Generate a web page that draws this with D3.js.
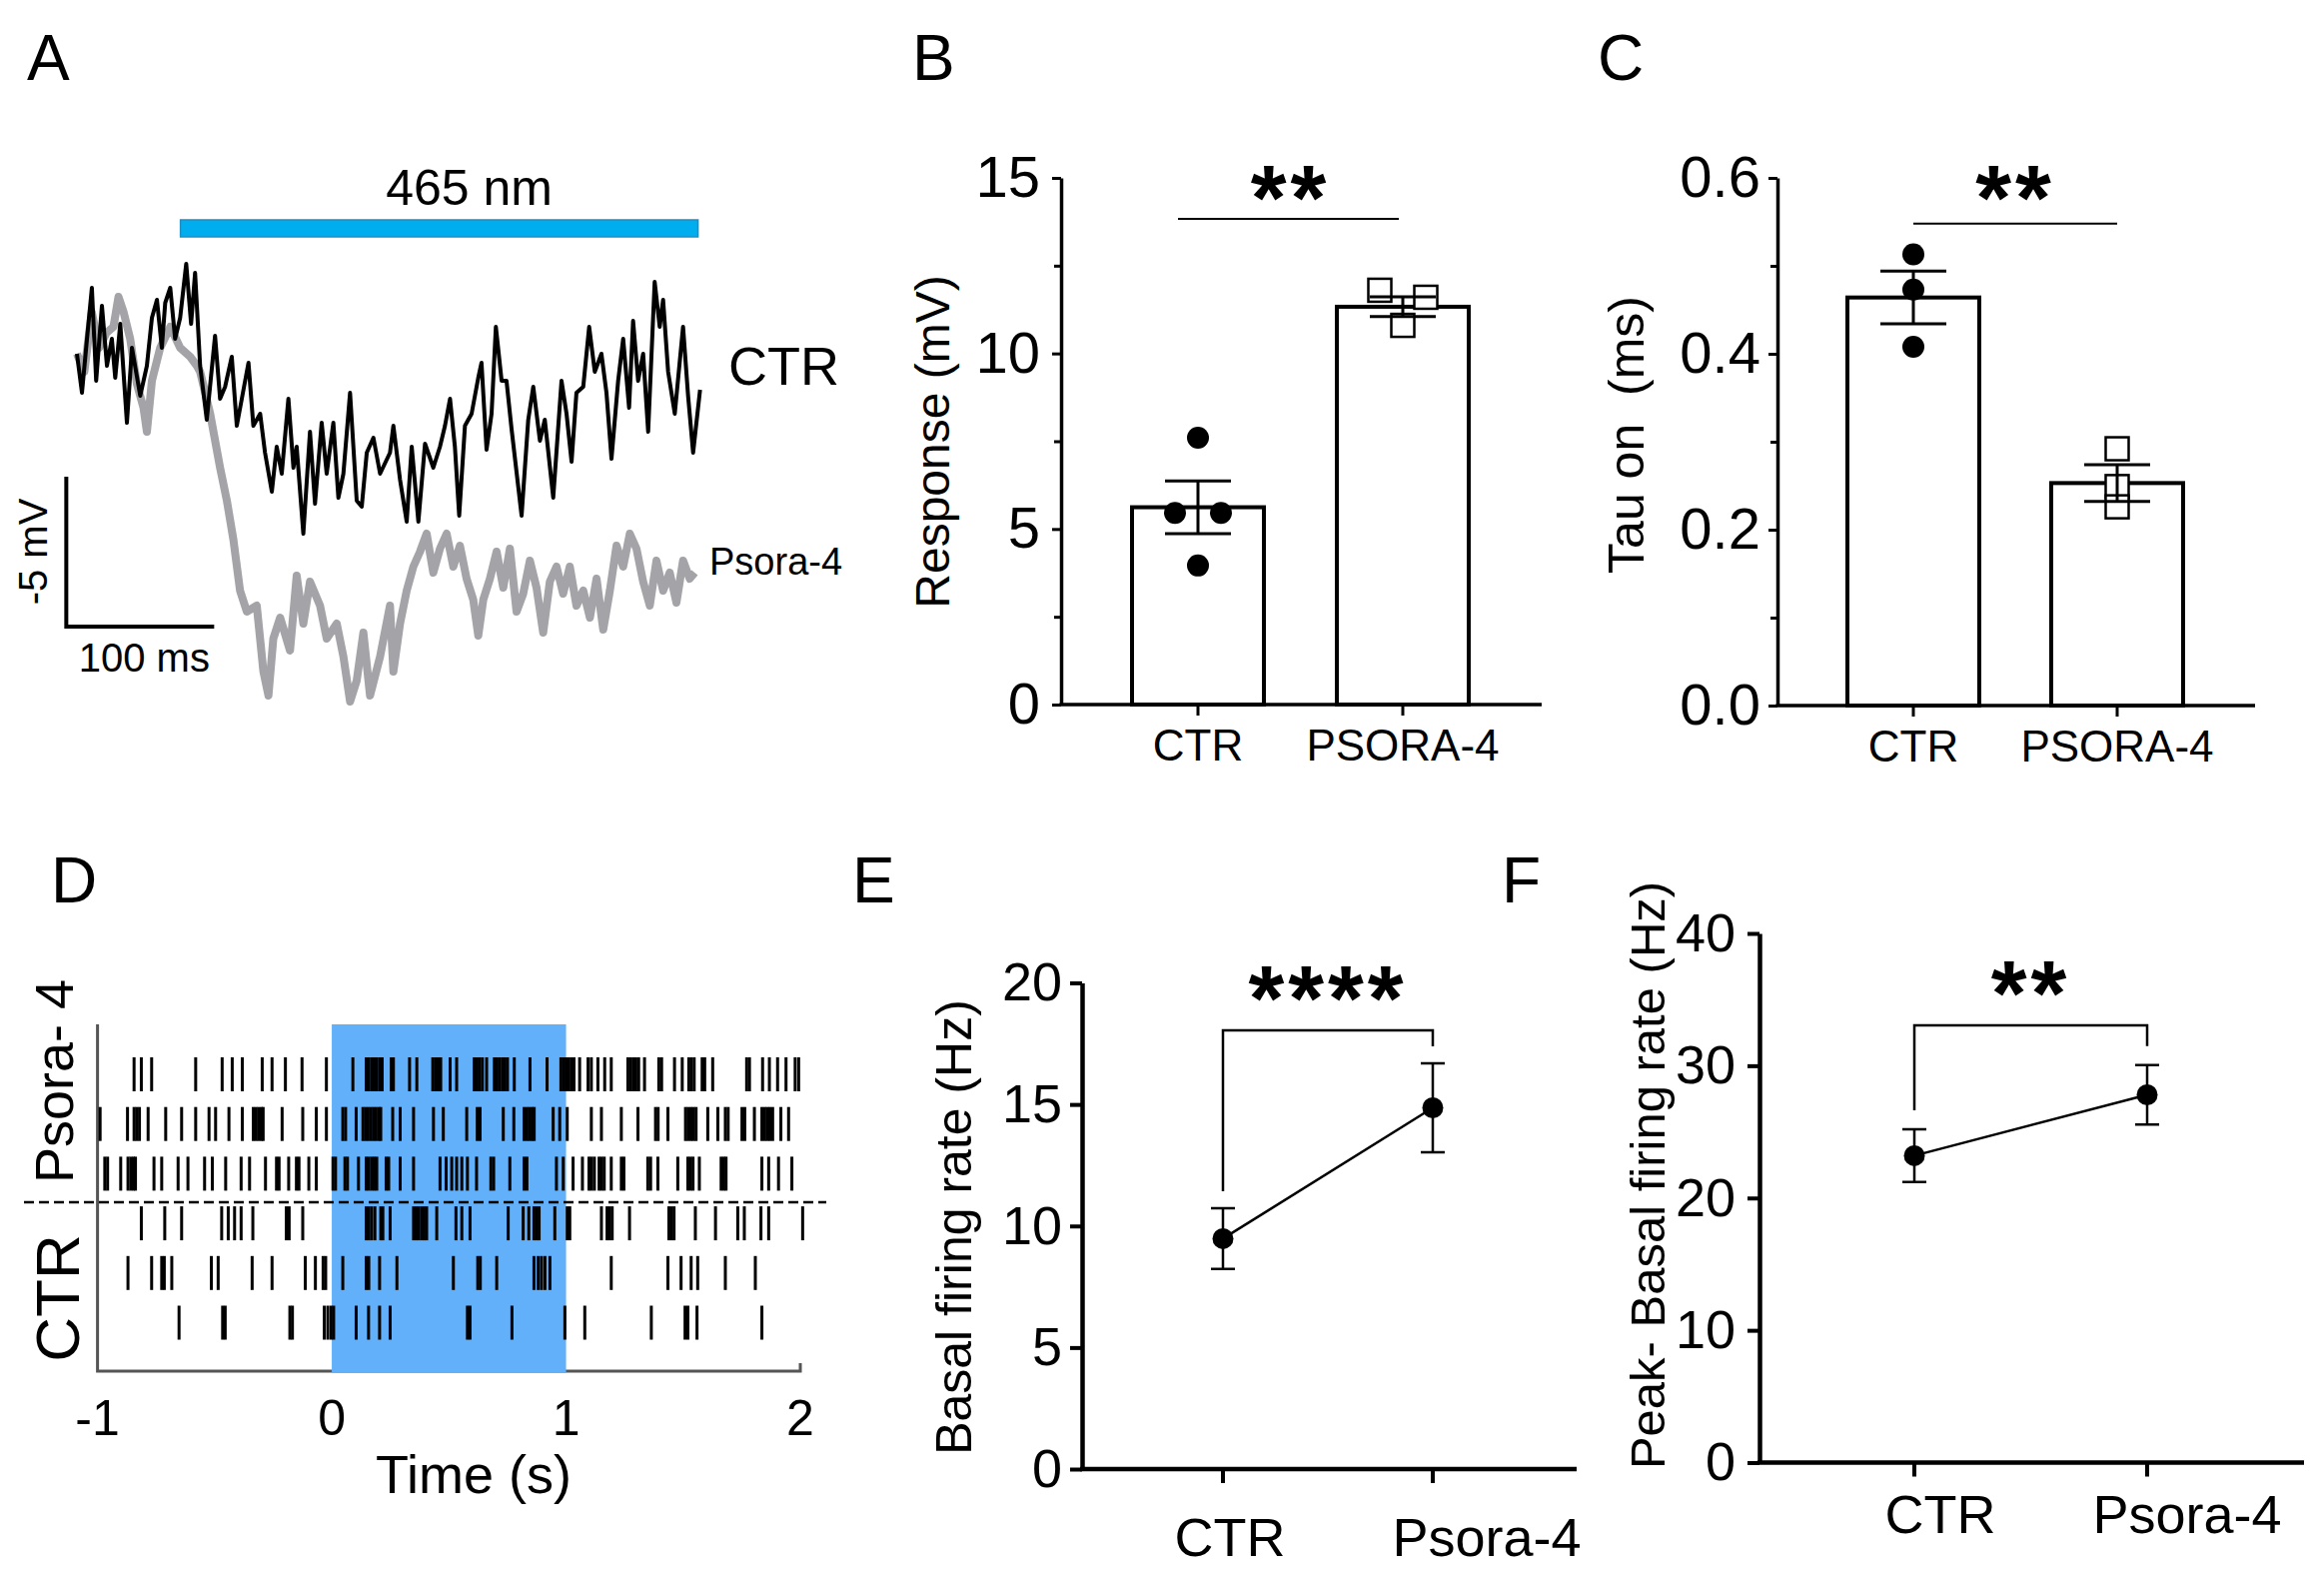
<!DOCTYPE html>
<html lang="en">
<head>
<meta charset="UTF-8">
<title>Psora-4 figure</title>
<script src="https://d3js.org/d3.v7.min.js"></script>
<style>
  body { margin: 0; background: #fff; }
  svg text { font-family: "Liberation Sans", Arial, sans-serif; fill: #000; }
</style>
</head>
<body>
<svg id="fig" width="2326" height="1595"></svg>
<script>
// ---------- data ----------
// A: example traces, [time (ms), change in potential (mV)]
const ctrTrace = [[0,0.1],[3.4,-1.2],[6.8,0.6],[10.1,2.3],[13,-0.8],[16.9,1.7],[20.3,-0.3],[23.6,0.6],[25.9,-0.7],[29.3,1.1],
  [33.8,-2.2],[37.2,0.3],[42.8,-1.3],[47.3,-0.3],[50.7,1.3],[54.1,1.9],[57.4,0.3],[59.7,1.8],[63.1,2.3],[66.4,0.6],
  [69.8,1.3],[73.9,3.1],[77.2,1.1],[79.9,2.8],[83.3,-0.3],[87.8,-2.1],[93.4,0.7],[96.8,-1.4],[100.2,-1],[104.7,0],
  [108.1,-2.3],[111.5,-1.4],[116,-0.2],[119.3,-2.3],[123.9,-1.9],[127.2,-3.2],[131.8,-4.5],[135.1,-3],[138.5,-3.9],[143,-1.4],
  [146.4,-3.7],[148.6,-3],[153.1,-5.9],[157.6,-2.5],[161,-4.9],[165.5,-2.2],[168.9,-3.9],[173.4,-2.2],[176.8,-4.7],[180.2,-3.9],
  [184.7,-1.2],[189.2,-4.8],[192.6,-5],[196,-3.2],[200.5,-2.7],[205,-3.9],[211.7,-3.2],[214,-2.3],[218.5,-4.1],[223,-5.5],
  [226.4,-3],[230.9,-5.5],[235.4,-2.9],[241,-3.7],[245.5,-3],[248.9,-2.3],[252.3,-1.4],[255.6,-3],[258.5,-5.3],[262.4,-2.3],
  [266.9,-1.9],[271.4,-0.7],[273.6,-0.2],[277,-3.1],[280.4,-1.9],[283.3,1],[287.2,-0.8],[290.5,-0.8],[293.9,-2.4],[300.7,-5.3],
  [305.2,-2.1],[308.6,-1],[313.1,-2.8],[316.4,-2.1],[322.1,-4.7],[327.7,-0.8],[331.1,-1.9],[334.5,-3.5],[337.8,-1.2],[342.4,-1],
  [346.4,1],[350.2,-0.5],[354.7,0.1],[358.1,-1.2],[361.5,-3.4],[366,-0.8],[369.4,0.6],[373.4,-1.7],[376.1,1.2],[379.5,-0.8],
  [382.9,0.1],[386.3,-2.5],[390.7,2.5],[394.1,1],[396.4,1.9],[399.8,-0.5],[404.3,-1.9],[409.9,1],[413.3,-1.3],[416.7,-3.2],[421.4,-1.1]];
const psoTrace = [[0,0.1],[5,-0.5],[10,1.5],[15,0.3],[20,0.8],[24.7,1],[28.1,2],[31.5,1.5],[36,0.6],[40.5,-0.9],
  [45,-1.7],[47.3,-2.5],[50.7,-0.8],[56.3,0.3],[63.1,1],[69.8,0.3],[76.6,0],[81.1,-0.3],[83.3,-0.5],[90.1,-1.9],
  [96.8,-3.7],[101.4,-4.8],[105.8,-6.1],[110.3,-7.8],[114.9,-8.5],[121.6,-8.3],[126.1,-10.5],[129.5,-11.3],[132.8,-9.4],[137.4,-8.7],
  [144.1,-9.8],[148.6,-7.3],[153.1,-8.9],[157.6,-7.5],[164.4,-8.3],[168.9,-9.4],[175.7,-8.9],[180.2,-10],[184.7,-11.5],[189.2,-10.8],
  [193.7,-9.2],[198.2,-11.3],[205,-10],[211.7,-8.3],[214,-10.5],[218.5,-8.9],[223,-7.8],[227.5,-7],[232,-6.5],[236.5,-5.9],
  [241,-7.2],[245.5,-6.4],[250,-5.9],[254.5,-7],[259,-6.3],[263.5,-7.4],[268,-8.1],[271.4,-9.3],[274.8,-8.1],[279.3,-7.4],
  [283.8,-6.5],[288.3,-7.7],[292.8,-6.4],[297.3,-8.5],[301.8,-7.9],[306.3,-6.8],[310.8,-7.7],[315.3,-9.2],[319.8,-7.5],[324.3,-7],
  [328.8,-7.9],[333.3,-7],[337.8,-8.3],[342.4,-7.8],[346.9,-8.7],[351.4,-7.4],[355.9,-9.1],[360.4,-7.8],[364.9,-6.3],[369.4,-7],
  [373.9,-5.9],[378.4,-6.4],[382.9,-7.5],[387.4,-8.3],[391.9,-6.8],[396.4,-7.8],[400.9,-7.2],[405.4,-8.2],[409.9,-6.8],[414.4,-7.4],[417.8,-7.2]];
const lightOn = [70, 420];          // ms, 465 nm light

// B: response (mV)
const barCats = ["CTR", "PSORA-4"];
const respMean = [5.62, 11.33];
const respSem = [0.75, 0.28];
const respPts = [[7.6, 5.46, 5.46, 3.96], [11.8, 11.6, 10.8]];

// C: tau on (ms)
const tauMean = [0.464, 0.253];
const tauSem = [0.030, 0.021];
const tauPts = [[0.513, 0.473, 0.408], [0.292, 0.249, 0.226]];

// D: raster, spike times (s)
const rasterRows = ["Psora-4 #1", "Psora-4 #2", "Psora-4 #3", "CTR #1", "CTR #2", "CTR #3"];
const spikesP1 = [-0.844,-0.813,-0.769,-0.581,-0.468,-0.425,-0.382,-0.297,-0.255,-0.198,-0.127,-0.023,
  0.090,0.147,0.158,0.170,0.181,0.192,0.204,0.215,0.254,0.263,0.332,0.363,0.431,0.442,0.454,0.465,0.505,0.533,
  0.608,0.620,0.631,0.643,0.661,0.694,0.705,0.716,0.728,0.739,0.750,0.779,0.846,0.919,0.978,0.989,1.000,1.012,1.023,1.034,
  1.058,1.094,1.108,1.136,1.165,1.193,1.264,1.276,1.287,1.298,1.310,1.335,1.396,1.408,1.463,1.496,1.524,1.535,1.547,
  1.581,1.592,1.626,1.771,1.783,1.839,1.868,1.903,1.939,1.978,1.993];
const spikesP2 = [-0.989,-0.872,-0.844,-0.833,-0.821,-0.784,-0.709,-0.641,-0.581,-0.524,-0.496,-0.439,-0.382,-0.335,-0.324,
  -0.313,-0.301,-0.293,-0.212,-0.124,-0.066,-0.023,
  0.047,0.059,0.104,0.133,0.144,0.155,0.167,0.178,0.189,0.201,0.209,0.260,0.292,0.349,0.434,0.476,0.576,0.621,0.633,
  0.732,0.777,0.821,0.833,0.844,0.855,0.864,0.945,0.973,1.005,
  1.108,1.151,1.236,1.307,1.382,1.393,1.435,1.510,1.521,1.533,1.544,1.555,1.605,1.648,1.680,1.692,1.751,1.763,1.804,
  1.836,1.848,1.859,1.870,1.882,1.917,1.950];
const spikesP3 = [-0.969,-0.957,-0.901,-0.870,-0.858,-0.847,-0.838,-0.759,-0.726,-0.656,-0.614,-0.543,-0.510,-0.453,-0.387,
  -0.351,-0.283,-0.236,-0.225,-0.184,-0.151,-0.140,-0.098,-0.066,
  0.005,0.016,0.056,0.067,0.114,0.147,0.158,0.170,0.181,0.192,0.232,0.243,0.292,0.349,0.462,0.488,0.512,0.533,0.555,
  0.579,0.618,0.679,0.691,0.760,0.821,0.833,0.959,0.988,
  1.030,1.070,1.098,1.109,1.121,1.141,1.152,1.163,1.193,1.236,1.247,1.349,1.361,1.392,1.477,1.520,1.531,1.542,1.569,
  1.662,1.673,1.683,1.836,1.865,1.907,1.964];
const spikesC1 = [-0.813,-0.713,-0.641,-0.470,-0.442,-0.415,-0.387,-0.337,-0.194,-0.182,-0.124,
  0.147,0.158,0.170,0.184,0.209,0.218,0.249,0.349,0.360,0.371,0.383,0.394,0.405,0.448,0.530,0.555,0.590,0.753,
  0.817,0.841,0.863,0.874,0.885,0.952,1.005,1.016,
  1.151,1.175,1.186,1.197,1.271,1.439,1.450,1.461,1.552,1.638,1.733,1.761,1.832,1.865,2.010];
const spikesC2 = [-0.870,-0.769,-0.726,-0.715,-0.683,-0.514,-0.485,-0.340,-0.255,-0.113,-0.070,-0.037,-0.026,
  0.047,0.147,0.158,0.204,0.278,0.519,0.623,0.634,0.704,0.863,0.881,0.895,0.910,0.931,
  1.193,1.435,1.491,1.534,1.562,1.680,1.808];
const spikesC3 = [-0.652,-0.466,-0.455,-0.179,-0.168,-0.032,-0.017,-0.003,0.008,0.104,0.157,0.204,0.249,0.579,0.590,
  0.769,0.995,1.080,1.364,1.508,1.520,1.559,1.836];
const rasterTicks = [-1, 0, 1, 2];
const stimWindow = [0, 1];

// E, F: mean +/- SEM
const groupCats = ["CTR", "Psora-4"];
const basalMean = [9.48, 14.86];
const basalSem = [1.25, 1.83];
const peakMean = [23.2, 27.8];
const peakSem = [2.0, 2.25];

// ---------- drawing ----------
const svg = d3.select("#fig");
svg.append("rect").attr("width", 2326).attr("height", 1595).attr("fill", "#fff");

// panel letters
const letters = [["A", 27, 80], ["B", 913, 80], ["C", 1599, 80], ["D", 51, 903], ["E", 853, 903], ["F", 1503, 903]];
svg.selectAll("text.letter").data(letters).join("text")
  .attr("class", "letter").attr("x", d => d[1]).attr("y", d => d[2])
  .attr("font-size", 64).text(d => d[0]);

function stars(g, x, y, txt) {
  g.append("text").attr("x", x).attr("y", y + 40).attr("text-anchor", "middle")
    .attr("font-size", 92).attr("font-weight", "bold").attr("letter-spacing", 4).text(txt);
}

// ---- A ----
(function () {
  const g = svg.append("g");
  const x = d3.scaleLinear().domain([0, 100]).range([77, 225]);
  const y = d3.scaleLinear().domain([0, -5]).range([357, 507]);
  g.append("rect").attr("x", x(lightOn[0])).attr("y", 220)
    .attr("width", x(lightOn[1]) - x(lightOn[0])).attr("height", 17)
    .attr("fill", "#00aeef").attr("stroke", "#1b8fc4").attr("stroke-width", 1.5);
  g.append("text").attr("x", (x(lightOn[0]) + x(lightOn[1])) / 2 + 30).attr("y", 205)
    .attr("text-anchor", "middle").attr("font-size", 50).text("465 nm");
  const line = d3.line().x(d => x(d[0])).y(d => y(d[1]));
  g.append("path").datum(psoTrace).attr("d", line).attr("fill", "none")
    .attr("stroke", "#a3a3a8").attr("stroke-width", 8).attr("stroke-linejoin", "round");
  g.append("path").datum(ctrTrace).attr("d", line).attr("fill", "none")
    .attr("stroke", "#000").attr("stroke-width", 4).attr("stroke-linejoin", "round");
  g.append("text").attr("x", 729).attr("y", 385).attr("font-size", 54).text("CTR");
  g.append("text").attr("x", 710).attr("y", 575).attr("font-size", 38).text("Psora-4");
  // scale bar 100 ms / 5 mV
  const t0 = -7.2, v0 = -9;
  g.append("path")
    .attr("d", `M${x(t0)},${y(v0 + 5)}V${y(v0)}H${x(t0 + 100)}`)
    .attr("fill", "none").attr("stroke", "#000").attr("stroke-width", 4);
  g.append("text").attr("transform", `translate(47,${(y(v0) + y(v0 + 5)) / 2}) rotate(-90)`)
    .attr("text-anchor", "middle").attr("font-size", 40).text("-5 mV");
  g.append("text").attr("x", (x(t0) + x(t0 + 100)) / 2 + 4).attr("y", 672)
    .attr("text-anchor", "middle").attr("font-size", 40).text("100 ms");
})();

// ---- B, C ----
function barPanel(c) {
  const g = svg.append("g");
  const y = d3.scaleLinear().domain(c.domain).range([c.y0, c.y1]);
  const x = d3.scalePoint().domain(barCats).range(c.xr);
  // axes
  g.append("g").attr("transform", `translate(${c.ax},0)`)
    .call(d3.axisLeft(y).tickValues(c.minor).tickSize(7).tickFormat(""))
    .call(a => a.select(".domain").remove())
    .call(a => a.selectAll("line").attr("stroke-width", 3));
  const ya = g.append("g").attr("transform", `translate(${c.ax},0)`)
    .call(d3.axisLeft(y).tickValues(c.major).tickSize(9).tickSizeOuter(0).tickPadding(c.pad).tickFormat(c.fmt));
  ya.select(".domain").attr("stroke-width", 3.5);
  ya.selectAll("line").attr("stroke-width", 3);
  ya.selectAll("text").attr("font-size", 58).attr("font-family", null);
  g.append("line").attr("x1", c.ax - 1.5).attr("x2", c.axEnd).attr("y1", c.y0).attr("y2", c.y0)
    .attr("stroke", "#000").attr("stroke-width", 3.5);
  g.selectAll("line.xt").data(barCats).join("line").attr("class", "xt")
    .attr("x1", d => x(d)).attr("x2", d => x(d)).attr("y1", c.y0).attr("y2", c.y0 + 11)
    .attr("stroke", "#000").attr("stroke-width", 3);
  g.selectAll("text.xl").data(barCats).join("text").attr("class", "xl")
    .attr("x", d => x(d)).attr("y", c.y0 + 56).attr("text-anchor", "middle")
    .attr("font-size", 44).text(d => d);
  g.append("text").attr("transform", `translate(${c.tx},${c.ty}) rotate(-90)`)
    .attr("text-anchor", "middle").attr("font-size", c.tfs).style("white-space", "pre").text(c.title);
  // bars
  g.selectAll("rect.bar").data(c.mean).join("rect").attr("class", "bar")
    .attr("x", (d, i) => x(barCats[i]) - 66).attr("width", 132)
    .attr("y", d => y(d)).attr("height", d => c.y0 - y(d))
    .attr("fill", "#fff").attr("stroke", "#000").attr("stroke-width", 4);
  // points, spread sideways where they overlap
  c.pts.forEach((vals, i) => {
    const cx = x(barCats[i]);
    const pts = vals.map(v => ({ v, py: y(v), dx: 0 }));
    const sorted = pts.slice().sort((a, b) => a.py - b.py);
    let cluster = [sorted[0]];
    const flush = () => { cluster.forEach((p, k) => p.dx = (k - (cluster.length - 1) / 2) * 46); };
    for (let k = 1; k < sorted.length; k++) {
      if (sorted[k].py - sorted[k - 1].py < 18) cluster.push(sorted[k]);
      else { flush(); cluster = [sorted[k]]; }
    }
    flush();
    if (i === 0) {
      g.selectAll(null).data(pts).join("circle")
        .attr("cx", p => cx + p.dx).attr("cy", p => p.py).attr("r", 11).attr("fill", "#000");
    } else {
      g.selectAll(null).data(pts).join("rect")
        .attr("x", p => cx + p.dx - 11.5).attr("y", p => p.py - 11.5).attr("width", 23).attr("height", 23)
        .attr("fill", "#fff").attr("stroke", "#000").attr("stroke-width", 2.5);
    }
  });
  // SEM
  c.mean.forEach((m, i) => {
    const cx = x(barCats[i]), lo = y(m - c.sem[i]), hi = y(m + c.sem[i]);
    g.append("path").attr("d", `M${cx},${lo}V${hi}M${cx - 33},${hi}H${cx + 33}M${cx - 33},${lo}H${cx + 33}`)
      .attr("stroke", "#000").attr("stroke-width", 3).attr("fill", "none");
  });
  // significance
  g.append("line").attr("x1", x(barCats[0]) + c.sigDx[0]).attr("x2", x(barCats[1]) + c.sigDx[1])
    .attr("y1", y(c.sigVal)).attr("y2", y(c.sigVal)).attr("stroke", "#000").attr("stroke-width", 2);
  stars(g, (x(barCats[0]) + x(barCats[1])) / 2 + c.sigDx[0] / 2, 190, "**");
}

barPanel({ domain: [0, 15], y0: 705, y1: 178, ax: 1062, axEnd: 1543, xr: [1199, 1404],
  major: [0, 5, 10, 15], minor: [2.5, 7.5, 12.5], fmt: d3.format("d"), pad: 12,
  title: "Response (mV)", tfs: 48, tx: 950, ty: 442, mean: respMean, sem: respSem, pts: respPts,
  sigVal: 13.83, sigDx: [-20, -4] });
barPanel({ domain: [0, 0.6], y0: 706, y1: 178, ax: 1779, axEnd: 2257, xr: [1915, 2119],
  major: [0, 0.2, 0.4, 0.6], minor: [0.1, 0.3, 0.5], fmt: d3.format(".1f"), pad: 8,
  title: "Tau on  (ms)", tfs: 50, tx: 1645, ty: 435, mean: tauMean, sem: tauSem, pts: tauPts,
  sigVal: 0.548, sigDx: [0, 0] });

// ---- D ----
(function () {
  const g = svg.append("g");
  const x = d3.scaleLinear().domain([-1, 2]).range([97.6, 801]);
  const y = d3.scalePoint().domain(rasterRows).range([1075, 1323.5]);
  const top = 1025, bottom = 1372;
  g.append("path").attr("d", `M${x(-1)},${top}V${bottom}H${x(2)}v-8`)
    .attr("fill", "none").attr("stroke", "#555").attr("stroke-width", 3);
  g.append("rect").attr("x", x(stimWindow[0])).attr("y", top)
    .attr("width", x(stimWindow[1]) - x(stimWindow[0])).attr("height", bottom - top + 2)
    .attr("fill", "#62b0fa");
  const rows = [spikesP1, spikesP2, spikesP3, spikesC1, spikesC2, spikesC3];
  rows.forEach((sp, i) => {
    const cy = y(rasterRows[i]);
    g.selectAll(null).data(sp).join("line")
      .attr("x1", d => x(d)).attr("x2", d => x(d)).attr("y1", cy - 17).attr("y2", cy + 17)
      .attr("stroke", "#000").attr("stroke-width", 3);
  });
  g.append("line").attr("x1", 24).attr("x2", 827).attr("y1", 1203).attr("y2", 1203)
    .attr("stroke", "#000").attr("stroke-width", 2.5).attr("stroke-dasharray", "10,5");
  g.selectAll("text.tk").data(rasterTicks).join("text").attr("class", "tk")
    .attr("x", d => x(d)).attr("y", 1436).attr("text-anchor", "middle").attr("font-size", 50)
    .text(d => d);
  g.append("text").attr("x", 474).attr("y", 1494).attr("text-anchor", "middle")
    .attr("font-size", 54).text("Time (s)");
  g.append("text").attr("transform", "translate(73,1082) rotate(-90)").attr("text-anchor", "middle")
    .attr("font-size", 54).style("white-space", "pre").text("Psora- 4");
  g.append("text").attr("transform", "translate(79,1299) rotate(-90)").attr("text-anchor", "middle")
    .attr("font-size", 62).text("CTR");
})();

// ---- E, F ----
function meanPanel(c) {
  const g = svg.append("g");
  const y = d3.scaleLinear().domain(c.domain).range([c.y0, c.y1]);
  const x = d3.scalePoint().domain(groupCats).range(c.xr);
  const ya = g.append("g").attr("transform", `translate(${c.ax},0)`)
    .call(d3.axisLeft(y).tickValues(c.ticks).tickSize(12).tickSizeOuter(0).tickPadding(c.pad).tickFormat(d3.format("d")));
  ya.select(".domain").attr("stroke-width", 4.5);
  ya.selectAll("line").attr("stroke-width", 4);
  ya.selectAll("text").attr("font-size", c.fs).attr("font-family", null);
  g.append("line").attr("x1", c.ax - 2).attr("x2", c.axEnd).attr("y1", c.y0).attr("y2", c.y0)
    .attr("stroke", "#000").attr("stroke-width", 4.5);
  g.selectAll("line.xt").data(groupCats).join("line").attr("class", "xt")
    .attr("x1", d => x(d)).attr("x2", d => x(d)).attr("y1", c.y0).attr("y2", c.y0 + 14)
    .attr("stroke", "#000").attr("stroke-width", 4);
  g.selectAll("text.xl").data(groupCats).join("text").attr("class", "xl")
    .attr("x", (d, i) => x(d) + c.labDx[i]).attr("y", c.labY).attr("text-anchor", "middle")
    .attr("font-size", 54).text(d => d);
  g.append("text").attr("transform", `translate(${c.tx},${c.ty}) rotate(-90)`)
    .attr("text-anchor", "middle").attr("font-size", c.tfs).text(c.title);
  // connecting line
  g.append("path").datum(c.mean).attr("d", d3.line().x((d, i) => x(groupCats[i])).y(d => y(d)))
    .attr("fill", "none").attr("stroke", "#000").attr("stroke-width", 2.5);
  c.mean.forEach((m, i) => {
    const cx = x(groupCats[i]), lo = y(m - c.sem[i]), hi = y(m + c.sem[i]);
    g.append("path").attr("d", `M${cx},${lo}V${hi}M${cx - 12},${hi}H${cx + 12}M${cx - 12},${lo}H${cx + 12}`)
      .attr("stroke", "#000").attr("stroke-width", 2.5).attr("fill", "none");
    g.append("circle").attr("cx", cx).attr("cy", y(m)).attr("r", 10.5).attr("fill", "#000");
  });
  // bracket
  const by = y(c.sigVal);
  const legs = c.mean.map((m, i) => y(m + c.sem[i]) - c.gap);
  g.append("path")
    .attr("d", `M${x(groupCats[0])},${legs[0]}V${by}H${x(groupCats[1])}V${legs[1]}`)
    .attr("fill", "none").attr("stroke", "#000").attr("stroke-width", 2.5);
  stars(g, (x(groupCats[0]) + x(groupCats[1])) / 2, c.starY, c.stars);
}

meanPanel({ domain: [0, 20], y0: 1470, y1: 983.5, ax: 1083, axEnd: 1578, xr: [1224, 1434],
  ticks: [0, 5, 10, 15, 20], pad: 8, fs: 54, labDx: [7, 54], labY: 1557,
  title: "Basal firing rate (Hz)", tfs: 50, tx: 972, ty: 1228, mean: basalMean, sem: basalSem,
  sigVal: 18.05, gap: 17, stars: "****", starY: 991 });
meanPanel({ domain: [0, 40], y0: 1463.5, y1: 934, ax: 1761, axEnd: 2306, xr: [1916, 2149],
  ticks: [0, 10, 20, 30, 40], pad: 12, fs: 54, labDx: [26, 40], labY: 1534,
  title: "Peak- Basal firing rate (Hz)", tfs: 49, tx: 1666, ty: 1176, mean: peakMean, sem: peakSem,
  sigVal: 33.05, gap: 19, stars: "**", starY: 986 });
</script>
</body>
</html>
